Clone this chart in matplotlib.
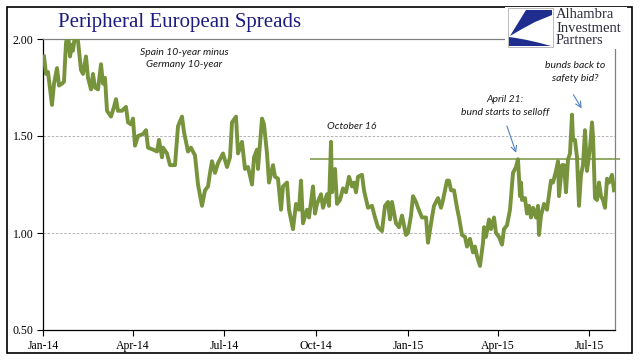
import pandas as pd
import matplotlib.pyplot as plt
import matplotlib.dates as mdates
from matplotlib.patches import Rectangle, Polygon

# Spain 10y minus Germany 10y spread
dates = [
    "2014-01-02", "2014-01-04", "2014-01-06", "2014-01-10", "2014-01-12", "2014-01-15",
    "2014-01-17", "2014-01-20", "2014-01-22", "2014-01-24", "2014-01-26", "2014-01-28",
    "2014-01-30", "2014-01-31", "2014-02-02", "2014-02-05", "2014-02-08", "2014-02-10",
    "2014-02-13", "2014-02-15", "2014-02-18", "2014-02-20", "2014-02-22", "2014-02-25",
    "2014-02-28", "2014-03-02", "2014-03-04", "2014-03-06", "2014-03-10", "2014-03-13",
    "2014-03-15", "2014-03-17", "2014-03-21", "2014-03-25", "2014-03-27", "2014-03-30",
    "2014-04-01", "2014-04-03", "2014-04-06", "2014-04-11", "2014-04-14", "2014-04-16",
    "2014-04-21", "2014-04-25", "2014-04-27", "2014-04-30", "2014-05-01", "2014-05-05",
    "2014-05-08", "2014-05-13", "2014-05-16", "2014-05-20", "2014-05-22", "2014-05-26",
    "2014-05-29", "2014-06-02", "2014-06-05", "2014-06-09", "2014-06-12", "2014-06-15",
    "2014-06-17", "2014-06-19", "2014-06-22", "2014-06-25", "2014-06-28", "2014-06-30",
    "2014-07-04", "2014-07-07", "2014-07-09", "2014-07-13", "2014-07-15", "2014-07-19",
    "2014-07-22", "2014-07-25", "2014-07-29", "2014-07-31", "2014-08-03", "2014-08-04",
    "2014-08-08", "2014-08-10", "2014-08-13", "2014-08-15", "2014-08-19", "2014-08-21",
    "2014-08-24", "2014-08-27", "2014-08-29", "2014-09-02", "2014-09-04", "2014-09-08",
    "2014-09-11", "2014-09-14", "2014-09-16", "2014-09-18", "2014-09-22", "2014-09-24",
    "2014-09-28", "2014-09-30", "2014-10-02", "2014-10-06", "2014-10-08", "2014-10-12",
    "2014-10-14", "2014-10-16", "2014-10-17", "2014-10-20", "2014-10-22", "2014-10-25",
    "2014-10-28", "2014-10-31", "2014-11-03", "2014-11-06", "2014-11-08", "2014-11-10",
    "2014-11-12", "2014-11-16", "2014-11-18", "2014-11-22", "2014-11-26", "2014-11-29",
    "2014-12-02", "2014-12-06", "2014-12-09", "2014-12-12", "2014-12-14", "2014-12-16",
    "2014-12-20", "2014-12-23", "2014-12-26", "2014-12-30", "2015-01-01", "2015-01-04",
    "2015-01-06", "2015-01-09", "2015-01-11", "2015-01-15", "2015-01-19", "2015-01-21",
    "2015-01-25", "2015-01-27", "2015-01-31", "2015-02-03", "2015-02-05", "2015-02-09",
    "2015-02-11", "2015-02-13", "2015-02-16", "2015-02-19", "2015-02-21", "2015-02-24",
    "2015-02-27", "2015-03-01", "2015-03-04", "2015-03-07", "2015-03-09", "2015-03-11",
    "2015-03-14", "2015-03-17", "2015-03-18", "2015-03-20", "2015-03-23", "2015-03-25",
    "2015-03-28", "2015-03-30", "2015-04-02", "2015-04-05", "2015-04-07", "2015-04-10",
    "2015-04-13", "2015-04-16", "2015-04-19", "2015-04-21", "2015-04-23", "2015-04-24",
    "2015-04-25", "2015-04-28", "2015-04-30", "2015-05-02", "2015-05-04", "2015-05-06",
    "2015-05-09", "2015-05-11", "2015-05-12", "2015-05-14", "2015-05-17", "2015-05-20",
    "2015-05-21", "2015-05-24", "2015-05-26", "2015-05-29", "2015-05-31", "2015-06-01",
    "2015-06-04", "2015-06-06", "2015-06-08", "2015-06-10", "2015-06-12", "2015-06-14",
    "2015-06-15", "2015-06-17", "2015-06-19", "2015-06-21", "2015-06-23", "2015-06-25",
    "2015-06-27", "2015-06-29", "2015-06-30", "2015-07-02", "2015-07-04", "2015-07-05",
    "2015-07-07", "2015-07-09", "2015-07-11", "2015-07-13", "2015-07-15", "2015-07-17",
    "2015-07-19", "2015-07-21", "2015-07-24", "2015-07-26",
]
spread = [
    1.91, 1.82, 1.83, 1.66, 1.77, 1.85,
    1.76, 1.77, 1.78, 1.98, 2.03, 1.91,
    1.97, 1.94, 2.02, 1.99, 1.84, 1.82,
    1.91, 1.80, 1.74, 1.82, 1.75, 1.74,
    1.87, 1.77, 1.80, 1.63, 1.60, 1.65,
    1.69, 1.63, 1.63, 1.65, 1.57, 1.56,
    1.59, 1.45, 1.50, 1.51, 1.53, 1.44,
    1.43, 1.42, 1.48, 1.39, 1.44, 1.41,
    1.35, 1.35, 1.55, 1.60, 1.52, 1.42,
    1.44, 1.40, 1.25, 1.14, 1.22, 1.24,
    1.31, 1.37, 1.31, 1.36, 1.39, 1.41,
    1.34, 1.39, 1.57, 1.60, 1.41, 1.47,
    1.33, 1.34, 1.25, 1.39, 1.43, 1.33,
    1.59, 1.56, 1.41, 1.26, 1.35, 1.29,
    1.28, 1.12, 1.24, 1.26, 1.12, 1.02,
    1.15, 1.12, 1.27, 1.05, 1.12, 1.08,
    1.24, 1.10, 1.15, 1.20, 1.13, 1.20,
    1.14, 1.47, 1.21, 1.33, 1.15, 1.17,
    1.23, 1.21, 1.29, 1.24, 1.26, 1.21,
    1.29, 1.30, 1.22, 1.13, 1.14, 1.08,
    1.03, 1.01, 1.14, 1.16, 1.07, 1.16,
    1.05, 1.03, 1.09, 0.99, 1.00, 1.09,
    1.19, 1.16, 1.13, 1.08, 1.08, 0.95,
    1.08, 1.14, 1.18, 1.13, 1.17, 1.27,
    1.27, 1.22, 1.22, 1.13, 1.08, 0.99,
    0.98, 0.93, 0.97, 0.90, 0.93, 0.88,
    0.83, 0.95, 1.03, 0.98, 1.07, 1.02,
    1.08, 1.00, 0.98, 0.94, 1.02, 1.04,
    1.12, 1.31, 1.34, 1.38, 1.19, 1.26,
    1.17, 1.18, 1.10, 1.14, 1.08, 1.13,
    1.08, 1.14, 0.99, 1.09, 1.15, 1.12,
    1.16, 1.27, 1.26, 1.32, 1.37, 1.19,
    1.35, 1.35, 1.21, 1.38, 1.41, 1.61,
    1.48, 1.48, 1.39, 1.14, 1.30, 1.35,
    1.53, 1.32, 1.36, 1.44, 1.57, 1.50,
    1.18, 1.17, 1.26, 1.19, 1.17, 1.13,
    1.28, 1.26, 1.30, 1.22,
]
tick_dates = ["2014-01-01", "2014-04-01", "2014-07-01", "2014-10-01",
              "2015-01-01", "2015-04-01", "2015-07-01"]
y_ticks = [0.50, 1.00, 1.50, 2.00]
ref_level = 1.38  # April 21 level line
ref_start, ref_end = "2014-09-25", "2015-08-01"

df = pd.DataFrame({"date": pd.to_datetime(dates), "spread": spread})
green = "#77933C"
arrow_blue = "#4F81BD"

fig = plt.figure(figsize=(6.41, 3.61), dpi=100)
ax = fig.add_axes([43 / 641, 31 / 361, 572 / 641, 291 / 361])

ax.plot(df["date"], df["spread"], color=green, lw=2.8, solid_joinstyle="round", zorder=3)
ax.hlines(ref_level, pd.Timestamp(ref_start), pd.Timestamp(ref_end), color=green, lw=1.1,
          clip_on=False, zorder=2)

ax.set_xlim(pd.Timestamp("2014-01-01"), pd.Timestamp("2015-07-27"))
ax.set_ylim(0.5, 2.0)
ax.set_yticks(y_ticks)
ax.set_yticklabels([f"{v:.2f}" for v in y_ticks])
ax.set_xticks(pd.to_datetime(tick_dates))
ax.xaxis.set_major_formatter(mdates.DateFormatter("%b-%y"))
for lab in ax.get_xticklabels() + ax.get_yticklabels():
    lab.set_fontfamily("Liberation Serif")
    lab.set_fontsize(8.5)
ax.tick_params(axis="both", length=4, width=0.8, direction="out", pad=3)

for v in [1.0, 1.5]:
    ax.axhline(v, color="#a6a6a6", lw=0.6, ls=(0, (3, 2)), zorder=1)
ax.spines["left"].set_color("black")
ax.spines["bottom"].set_color("black")
ax.spines["top"].set_color("#808080")
ax.spines["right"].set_color("#808080")
for s in ax.spines.values():
    s.set_linewidth(0.9)

# annotations
note = dict(fontfamily="Lato", fontstyle="italic", fontsize=7.5, ha="center", va="center",
            color="#1a1a1a", linespacing=1.5)
ax.text(pd.Timestamp("2014-05-22"), 1.90, "Spain 10-year minus\nGermany 10-year", **note)
ax.text(pd.Timestamp("2014-11-06"), 1.55, "October 16", **note)
ax.text(pd.Timestamp("2015-04-08"), 1.655, "April 21:\nbund starts to selloff", **note)
ax.text(pd.Timestamp("2015-06-17"), 1.83, "bunds back to\nsafety bid?", **note)
ax.annotate("", xy=(pd.Timestamp("2015-04-20"), 1.40), xytext=(pd.Timestamp("2015-04-09"), 1.565),
            arrowprops=dict(arrowstyle="->", color=arrow_blue, lw=0.8))
ax.annotate("", xy=(pd.Timestamp("2015-06-25"), 1.63), xytext=(pd.Timestamp("2015-06-14"), 1.725),
            arrowprops=dict(arrowstyle="->", color=arrow_blue, lw=0.8))

# overlay in pixel space for frame, title and logo
deco = fig.add_axes([0, 0, 1, 1], zorder=5)
deco.set_xlim(0, 641)
deco.set_ylim(361, 0)
deco.axis("off")
deco.add_patch(Rectangle((7, 7), 625, 346, fill=False, ec="black", lw=1.2))
deco.text(180, 23, "Peripheral European Spreads", fontfamily="Liberation Serif", fontsize=15,
          color="#1c1c80", ha="center", va="center")

# logo
deco.add_patch(Rectangle((505, 7), 122, 42, fc="white", ec="none"))
deco.add_patch(Rectangle((508, 8), 45, 39, fc="white", ec="#b0b0b0", lw=0.6))
deco.add_patch(Polygon([(526, 10), (552, 10), (552, 15), (535, 22), (522, 29), (510, 36)],
                       closed=True, fc="#1f2d8f", ec="none"))
deco.add_patch(Polygon([(509, 37), (509, 46), (551, 46), (540, 43), (527, 40), (516, 38)],
                       closed=True, fc="#1f2d8f", ec="none"))
for i, word in enumerate(["Alhambra", "Investment", "Partners"]):
    deco.text(556, 15 + i * 13, word, fontfamily="Liberation Serif", fontsize=10.5,
              color="#2b2b3a", ha="left", va="center")

plt.savefig("out.png", dpi=100)
